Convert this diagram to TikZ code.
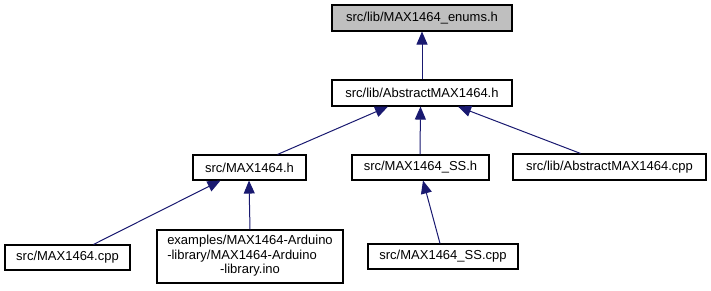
\documentclass[tikz,border=0pt]{standalone}
\usepackage{fontspec}
\setmainfont{Liberation Sans}
\usetikzlibrary{arrows.meta}

\definecolor{edgeblue}{HTML}{191970}

\tikzset{
	file/.style={draw=black, line width=1.1pt, fill=white, inner sep=0pt,
		font=\fontsize{13}{14.5}\selectfont},
	dep/.style={draw=edgeblue, line width=1pt,
		>={Triangle[length=13pt, width=11pt, fill=edgeblue]}, ->}
}

\begin{document}
\begin{tikzpicture}[x=1pt, y=-1pt]
	\useasboundingbox (0,0) rectangle (711,291);

	\node (enums) [file, fill=black!25, minimum width=180pt, minimum height=26pt] at (422, 18) {src/lib/MAX1464\_enums.h};
	\node (abs) [file, minimum width=180pt, minimum height=26pt] at (422, 93) {src/lib/AbstractMAX1464.h};
	\node (mh) [file, minimum width=113pt, minimum height=25pt] at (249.5, 167.5) {src/MAX1464.h};
	\node (ssh) [file, minimum width=137pt, minimum height=25pt] at (420.5, 167.5) {src/MAX1464\_SS.h};
	\node (abscpp) [file, minimum width=193pt, minimum height=26pt] at (609.5, 167) {src/lib/AbstractMAX1464.cpp};
	\node (mcpp) [file, minimum width=125pt, minimum height=25pt] at (67.5, 257.5) {src/MAX1464.cpp};
	\node (ino) [file, minimum width=186pt, minimum height=53pt] at (250, 256.5)
		{\begin{tabular}{@{}l@{}}examples/MAX1464-Arduino\\-library/MAX1464-Arduino\\\multicolumn{1}{@{}c@{}}{-library.ino}\end{tabular}};
	\node (sscpp) [file, minimum width=150pt, minimum height=25pt] at (443, 256.5) {src/MAX1464\_SS.cpp};

	\draw[dep] (abs) -- (enums);
	\draw[dep] ([xshift=28pt]mh.north) -- ([xshift=-34pt]abs.south);
	\draw[dep] ([xshift=-0.5pt]ssh.north) -- ([xshift=-1.5pt]abs.south);
	\draw[dep] ([xshift=-29pt]abscpp.north) -- ([xshift=36pt]abs.south);
	\draw[dep] ([xshift=26pt]mcpp.north) -- ([xshift=-29pt]mh.south);
	\draw[dep] (ino.north) -- ([xshift=-0.5pt]mh.south);
	\draw[dep] ([xshift=-3pt]sscpp.north) -- ([xshift=2.5pt]ssh.south);

\end{tikzpicture}
\end{document}
